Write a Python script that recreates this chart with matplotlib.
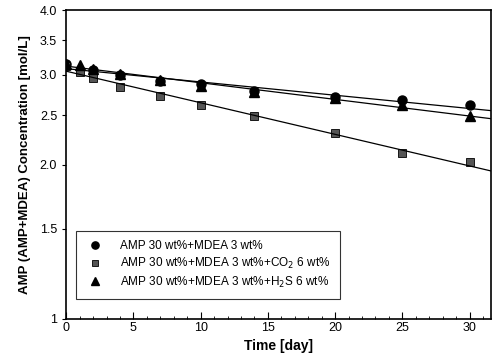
import numpy as np
import matplotlib
matplotlib.use('Agg')
import matplotlib.pyplot as plt
from matplotlib.ticker import FixedLocator, MultipleLocator, NullLocator

plt.rcParams['font.family'] = ['Liberation Sans', 'DejaVu Sans']

# data
days_base = [0, 2, 4, 7, 10, 14, 20, 25, 30]
conc_base = [3.15, 3.06, 3.00, 2.92, 2.87, 2.79, 2.71, 2.67, 2.61]

days_co2 = [0, 1, 2, 4, 7, 10, 14, 20, 25, 30]
conc_co2 = [3.12, 3.04, 2.95, 2.83, 2.72, 2.61, 2.49, 2.31, 2.11, 2.02]

days_h2s = [0, 1, 2, 4, 7, 10, 14, 20, 25, 30]
conc_h2s = [3.15, 3.13, 3.07, 3.01, 2.93, 2.85, 2.77, 2.70, 2.61, 2.49]

labels = ['AMP 30 wt%+MDEA 3 wt%',
          'AMP 30 wt%+MDEA 3 wt%+CO$_2$ 6 wt%',
          'AMP 30 wt%+MDEA 3 wt%+H$_2$S 6 wt%']

yticks = [1, 1.5, 2.0, 2.5, 3.0, 3.5, 4.0]
ytick_labels = ['1', '1.5', '2.0', '2.5', '3.0', '3.5', '4.0']

fig = plt.figure(figsize=(4.94, 3.62), dpi=100)
ax = fig.add_axes([0.134, 0.119, 0.860, 0.852])

xfit = np.linspace(0, 31.6, 50)
styles = [
    (days_base, conc_base, dict(marker='o', color='black', markersize=6.5)),
    (days_co2, conc_co2, dict(marker='s', color='#555555', markeredgecolor='black',
                              markeredgewidth=0.6, markersize=5.5)),
    (days_h2s, conc_h2s, dict(marker='^', color='black', markersize=6.5)),
]
for (d, c, st), lab in zip(styles, labels):
    ax.plot(d, c, linestyle='none', label=lab, **st)
    # exponential fit (straight line on log axis)
    k, b = np.polyfit(d, np.log(c), 1)
    ax.plot(xfit, np.exp(b + k * xfit), color='black', linewidth=0.9)

ax.set_yscale('log')
ax.set_ylim(1, 4.0)
ax.set_xlim(0, 31.6)
ax.yaxis.set_major_locator(FixedLocator(yticks))
ax.yaxis.set_minor_locator(NullLocator())
ax.set_yticklabels(ytick_labels)
ax.xaxis.set_major_locator(MultipleLocator(5))
ax.xaxis.set_minor_locator(MultipleLocator(1))
ax.tick_params(axis='x', which='major', direction='in', length=5, labelsize=9, pad=2)
ax.tick_params(axis='x', which='minor', direction='in', length=2.5)
ax.tick_params(axis='y', which='major', direction='out', length=3, labelsize=9)
for s in ax.spines.values():
    s.set_linewidth(1.2)

ax.set_xlabel('Time [day]', fontsize=10, fontweight='bold', labelpad=4)
ax.set_ylabel('AMP (AMP+MDEA) Concentration [mol/L]', fontsize=9.5, fontweight='bold', labelpad=6)

leg = ax.legend(loc='lower left', bbox_to_anchor=(0.01, 0.045), fontsize=8.5,
                frameon=True, fancybox=False, edgecolor='black', handletextpad=1.4,
                borderpad=0.8, labelspacing=0.3, handlelength=1.5, markerscale=0.8)
leg.get_frame().set_linewidth(0.8)

fig.savefig('out.png', dpi=100)
